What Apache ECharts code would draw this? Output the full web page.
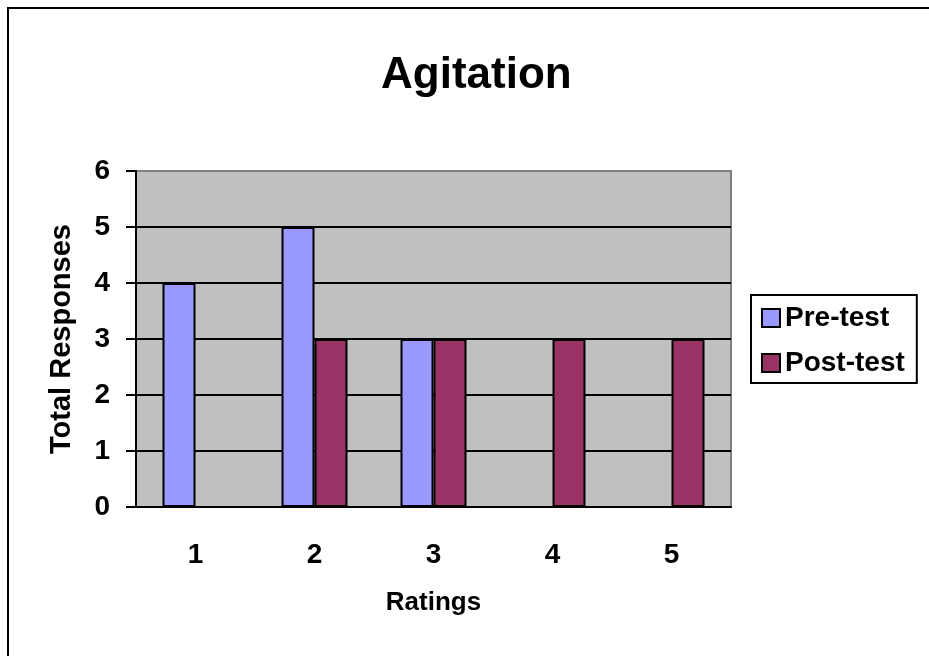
<!DOCTYPE html>
<html>
<head>
<meta charset="utf-8">
<script src="https://cdn.jsdelivr.net/npm/echarts@6/dist/echarts.min.js"></script>
<style>
  html, body { margin: 0; padding: 0; background: #fff; }
  #chart { width: 929px; height: 656px; }
</style>
</head>
<body>
<div id="chart"></div>
<script>
// data
const ratings = ['1', '2', '3', '4', '5']
const preTest = [4, 5, 3, 0, 0]
const postTest = [0, 3, 3, 3, 3]

const font = 'Arial, "Liberation Sans", sans-serif'
const chart = echarts.init(document.getElementById('chart'))

const option = {
  animation: false,
  backgroundColor: '#fff',
  title: {
    text: 'Agitation',
    left: 376,
    top: 49,
    textStyle: { fontFamily: font, fontSize: 44, fontWeight: 'bold', color: '#000' }
  },
  graphic: [{
    type: 'rect',
    shape: { x: 8, y: 8, width: 1000, height: 1000 },
    style: { fill: 'none', stroke: '#000', lineWidth: 2 },
    silent: true
  }],
  legend: {
    orient: 'vertical',
    left: 751,
    top: 295,
    padding: [9, 12, 6, 10],
    itemGap: 17,
    itemWidth: 18,
    itemHeight: 18,
    icon: 'rect',
    backgroundColor: '#fff',
    borderColor: '#000',
    borderWidth: 2,
    textStyle: { fontFamily: font, fontSize: 28, fontWeight: 'bold', color: '#000' },
    data: ['Pre-test', 'Post-test']
  },
  grid: {
    left: 136,
    right: 198,
    top: 171,
    bottom: 149,
    show: true,
    backgroundColor: '#C0C0C0',
    borderColor: '#808080',
    borderWidth: 2
  },
  xAxis: {
    type: 'category',
    data: ratings,
    name: 'Ratings',
    nameLocation: 'middle',
    nameGap: 83,
    nameTextStyle: { fontFamily: font, fontSize: 26, fontWeight: 'bold', color: '#000' },
    axisLine: { lineStyle: { color: '#000', width: 2 } },
    axisTick: { length: 11, lineStyle: { color: '#000', width: 2 } },
    axisLabel: { margin: 34, fontFamily: font, fontSize: 28, fontWeight: 'bold', color: '#000' }
  },
  yAxis: {
    type: 'value',
    min: 0,
    max: 6,
    interval: 1,
    name: 'Total Responses',
    nameLocation: 'middle',
    nameGap: 60,
    nameTextStyle: { fontFamily: font, fontSize: 29, fontWeight: 'bold', color: '#000' },
    axisLine: { show: true, lineStyle: { color: '#000', width: 2 } },
    axisTick: { show: true, length: 10, lineStyle: { color: '#000', width: 2 } },
    axisLabel: { margin: 26, fontFamily: font, fontSize: 28, fontWeight: 'bold', color: '#000' },
    splitLine: {
      lineStyle: { color: ['#000', '#000', '#000', '#000', '#000', '#000', '#808080'], width: 2 }
    }
  },
  series: [
    {
      name: 'Pre-test',
      type: 'bar',
      barWidth: 33,
      barGap: '0%',
      data: preTest,
      itemStyle: { color: '#9999FF', borderColor: '#000', borderWidth: 2 }
    },
    {
      name: 'Post-test',
      type: 'bar',
      barWidth: 33,
      barGap: '0%',
      data: postTest,
      itemStyle: { color: '#993366', borderColor: '#000', borderWidth: 2 }
    }
  ]
}

chart.setOption(option)
</script>
</body>
</html>
